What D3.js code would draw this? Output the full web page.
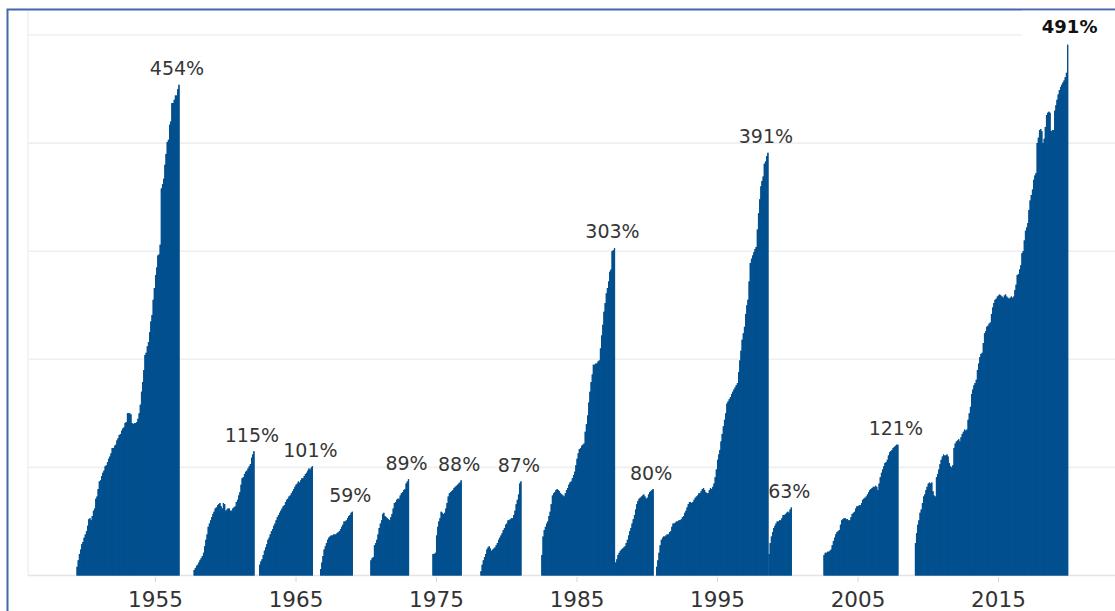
<!DOCTYPE html>
<html>
<head>
<meta charset="utf-8">
<script src="https://cdn.jsdelivr.net/npm/d3@7"></script>
<style>
  html, body { margin: 0; padding: 0; background: #fff; overflow: hidden; }
  svg { display: block; }
</style>
</head>
<body>
<svg id="chart" width="1115" height="611"></svg>
<script>
// Cumulative return (%) of each bull market, one value per month, from its first month.
const bullStarts = ["1949-06", "1957-10", "1962-06", "1966-10", "1970-05", "1974-10",
                    "1978-03", "1982-07", "1987-10", "1990-09", "1998-09", "2002-08", "2009-02"];

const bull1949 = [8,14,20,24,29,31,35,38,41,46,52,53,51,55,60,62,71,73,80,87,
  88,92,95,97,101,102,105,108,110,113,118,118,120,121,125,127,130,131,134,136,
  137,141,142,150,150,150,149,141,140,141,141,142,145,150,158,170,179,190,204,206,
  212,216,225,235,241,255,266,278,285,296,297,306,358,362,367,380,390,401,403,417,
  420,437,437,440,444,444,450,454];
const bull1957 = [5,7,9,10,12,14,16,18,21,27,33,38,45,48,51,54,57,59,62,63,
  65,66,67,64,62,67,66,60,61,62,62,60,60,62,63,64,68,70,74,77,
  84,90,91,94,96,97,99,101,103,109,112,115];
const bull1962 = [10,13,15,19,23,26,29,33,35,38,41,43,46,48,51,54,56,58,60,62,
  64,65,68,70,71,73,74,76,78,80,82,84,85,87,86,88,90,90,92,94,
  95,97,99,98,100,101];
const bull1966 = [6,12,18,24,27,30,33,35,36,37,37,38,38,38,39,40,41,43,45,47,
  50,50,51,53,55,56,58,59];
const bull1970 = [14,16,17,28,30,33,38,44,48,51,57,58,55,54,53,52,51,54,57,62,
  67,68,70,71,71,74,76,77,79,80,85,87,89];
const bull1974 = [20,20,21,37,45,50,53,59,58,57,58,62,67,73,76,77,78,79,81,82,
  83,84,85,86,88];
const bull1978 = [4,10,14,17,20,24,26,27,25,23,24,25,26,28,30,33,35,37,39,42,
  44,47,48,51,51,52,53,53,56,60,66,70,75,85,87];
const bull1982 = [19,36,42,45,48,50,55,59,66,74,76,77,79,80,79,78,76,75,74,73,
  76,79,81,84,86,87,90,93,96,102,108,113,117,118,120,121,122,133,140,148,
  160,170,179,186,195,195,196,196,198,199,210,222,232,244,252,261,266,272,281,283,
  300,301,303];
const bull1987 = [12,15,19,21,23,24,25,26,27,30,33,37,41,44,48,52,56,61,66,69,
  71,72,73,74,75,73,71,72,75,77,78,79,80];
const bull1990 = [8,14,21,28,33,35,36,36,37,38,38,40,41,45,48,48,49,50,50,51,
  51,52,54,55,58,60,63,66,68,68,67,68,70,72,73,74,76,76,78,80,
  81,79,77,76,76,79,81,80,82,85,91,98,107,112,116,124,131,138,144,150,
  159,161,163,165,168,170,172,174,176,178,188,199,208,218,224,230,242,250,255,272,
  289,293,296,299,302,304,320,335,348,360,365,369,381,383,388,391];
const bull1998 = [20,30,36,40,44,46,48,50,50,51,51,53,56,56,57,58,59,58,61,63];
const bull2002 = [19,21,21,22,22,23,24,28,32,35,38,40,41,42,47,51,52,53,53,52,
  52,51,51,54,57,58,59,62,64,64,65,65,67,70,71,72,73,75,77,79,
  80,81,82,82,83,82,79,85,91,95,98,101,104,105,107,111,114,115,116,118,
  119,120,121,121];
const bull2009 = [30,39,47,51,58,61,67,73,75,79,82,85,86,85,86,78,74,73,91,94,
  98,103,107,110,112,111,111,112,110,104,101,100,102,118,122,124,125,126,124,128,
  131,133,135,134,135,144,150,156,168,172,176,178,181,190,196,202,205,206,215,224,
  226,230,231,233,234,242,248,252,255,256,258,259,260,259,258,257,259,260,258,257,
  256,257,258,257,258,264,269,278,279,283,287,298,300,310,319,322,326,338,347,352,
  357,366,370,372,400,405,412,413,411,400,404,415,426,428,429,428,411,412,412,430,
  435,440,445,449,452,454,456,458,461,465,491];

const bullSeries = [bull1949, bull1957, bull1962, bull1966, bull1970, bull1974,
                    bull1978, bull1982, bull1987, bull1990, bull1998, bull2002, bull2009];

// Axis ticks
const yGridValues = [0, 100, 200, 300, 400, 500];
const yearTicks = [1955, 1965, 1975, 1985, 1995, 2005, 2015];

// The current bull market gets the bold call-out label.
const calloutIndex = 12;

const svg = d3.select("#chart");
const parseMonth = d3.timeParse("%Y-%m");

const x = d3.scaleTime()
  .domain([new Date(1949, 0, 1), new Date(2021, 0, 1)])
  .range([70.7, 1082.3]);
const y = d3.scaleLinear().domain([0, 500]).range([575.5, 35]);

const barColor = "#03508f";

// Frame around the chart
svg.append("rect")
  .attr("x", 7.5).attr("y", 9.5)
  .attr("width", 1300).attr("height", 800)
  .attr("fill", "none")
  .attr("stroke", "#4466ad")
  .attr("stroke-width", 2);

// Faint left edge of the plot pane
svg.append("line")
  .attr("x1", 28).attr("x2", 28)
  .attr("y1", 11).attr("y2", y(0))
  .attr("stroke", "#f1f1f1").attr("stroke-width", 1.5);

// Horizontal gridlines
svg.append("g").selectAll("line")
  .data(yGridValues)
  .join("line")
  .attr("x1", 28).attr("x2", 1115)
  .attr("y1", d => y(d)).attr("y2", d => y(d))
  .attr("stroke", d => d === 0 ? "#e4e4e4" : "#efefef")
  .attr("stroke-width", 1.6);

// Monthly rows for every bull market
const marketRows = bullSeries.map((vals, k) => {
  const start = parseMonth(bullStarts[k]);
  return vals.map((v, i) => ({
    market: k,
    d0: d3.timeMonth.offset(start, i),
    d1: d3.timeMonth.offset(start, i + 1),
    v
  }));
});

// Solid step silhouette beneath the bars so neighbouring bars read as one block
const stepArea = d3.area()
  .x(d => x(d.d0))
  .y0(y(0))
  .y1(d => y(d.v))
  .curve(d3.curveStepAfter);

svg.append("g").selectAll("path")
  .data(marketRows)
  .join("path")
  .attr("d", rows => stepArea(rows.concat([{ d0: rows[rows.length - 1].d1, v: rows[rows.length - 1].v }])))
  .attr("fill", barColor);

// Monthly bars
svg.append("g").selectAll("rect")
  .data(marketRows.flat())
  .join("rect")
  .attr("x", d => x(d.d0))
  .attr("width", d => x(d.d1) - x(d.d0))
  .attr("y", d => y(d.v))
  .attr("height", d => y(0) - y(d.v))
  .attr("fill", barColor);

// Year axis
const xAxis = d3.axisBottom(x)
  .tickValues(yearTicks.map(yr => new Date(yr, 0, 1)))
  .tickFormat(d3.timeFormat("%Y"))
  .tickSize(5)
  .tickPadding(10);

const gx = svg.append("g")
  .attr("transform", `translate(0,${y(0) + 1.5})`)
  .call(xAxis);
gx.select(".domain").remove();
gx.selectAll(".tick line").attr("stroke", "#d6d6d6");
gx.selectAll(".tick text")
  .attr("font-family", "DejaVu Sans, sans-serif")
  .attr("font-size", 21.5)
  .attr("fill", "#333");

// Peak labels
const peaks = bullSeries.map((vals, k) => {
  const start = parseMonth(bullStarts[k]);
  const n = vals.length;
  const d0 = d3.timeMonth.offset(start, n - 1);
  const d1 = d3.timeMonth.offset(start, n);
  return { k, v: vals[n - 1], cx: (x(d0) + x(d1)) / 2 };
});
const fmt = v => d3.format("d")(v) + "%";

svg.append("g").selectAll("text")
  .data(peaks.filter(p => p.k !== calloutIndex))
  .join("text")
  .attr("x", p => p.cx - 2)
  .attr("y", p => y(p.v) - 9.5)
  .attr("text-anchor", "middle")
  .attr("font-family", "DejaVu Sans, sans-serif")
  .attr("font-size", 19)
  .attr("fill", "#363636")
  .text(p => fmt(p.v));

// Call-out label for the current bull market, on its own white box
const call = peaks[calloutIndex];
const callG = svg.append("g");
callG.append("rect")
  .attr("x", call.cx - 46).attr("y", y(call.v) - 34)
  .attr("width", 96).attr("height", 28)
  .attr("fill", "#fff");
callG.append("text")
  .attr("x", call.cx + 2)
  .attr("y", y(call.v) - 12)
  .attr("text-anchor", "middle")
  .attr("font-family", "DejaVu Sans, sans-serif")
  .attr("font-weight", "bold")
  .attr("font-size", 18)
  .attr("fill", "#111")
  .text(fmt(call.v));
</script>
</body>
</html>
